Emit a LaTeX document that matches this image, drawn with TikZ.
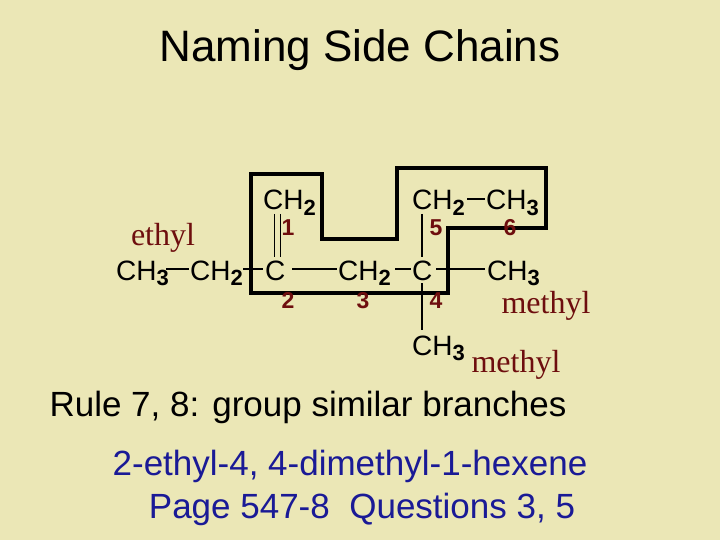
\documentclass[tikz,border=0pt]{standalone}
\usepackage{fontspec}
\setmainfont{Liberation Sans}
\newfontfamily\serifo{Liberation Serif}
\definecolor{bg}{HTML}{EBE7B6}
\definecolor{dred}{HTML}{6E0E0E}
\definecolor{nblue}{HTML}{1A1A96}
\newcommand{\sbs}[1]{\raisebox{-0.35ex}{\bfseries\fontsize{22}{22}\selectfont #1}}
\begin{document}
\begin{tikzpicture}[x=1pt,y=-1pt,
  atom/.style={inner sep=0pt,anchor=base west,font=\fontsize{28}{28}\selectfont},
  num/.style={inner sep=0pt,anchor=base,text=dred,font=\bfseries\fontsize{23}{23}\selectfont},
  lbl/.style={inner sep=0pt,anchor=base,text=dred,font=\serifo\fontsize{32}{32}\selectfont},
  bond/.style={line width=1.3pt}]
\fill[bg] (0,0) rectangle (720,540);
\useasboundingbox (0,0) rectangle (720,540);
\node[inner sep=0pt,anchor=base,font=\fontsize{44}{44}\selectfont] (title) at (360,62) {Naming Side Chains};
% main row
\node[atom] (a1) at (116,280) {CH\sbs{3}};
\node[atom] (a2) at (190,280) {CH\sbs{2}};
\node[atom] (c2) at (265,280) {C};
\node[atom] (c3) at (338,280) {CH\sbs{2}};
\node[atom] (c4) at (412,280) {C};
\node[atom] (m1) at (487,280) {CH\sbs{3}};
% top row
\node[atom] (c1) at (263,210) {CH\sbs{2}};
\node[atom] (c5) at (412,210) {CH\sbs{2}};
\node[atom] (c6) at (486,210) {CH\sbs{3}};
% bottom
\node[atom] (m2) at (412,355) {CH\sbs{3}};
% bonds
\coordinate (b1) at (166,269); \coordinate (b2) at (189,269);
\draw[bond] (b1) -- (b2);
\coordinate (b3) at (243,269); \coordinate (b4) at (263,269);
\draw[bond] (b3) -- (b4);
\coordinate (b5) at (292,269); \coordinate (b6) at (337,269);
\draw[bond] (b5) -- (b6);
\coordinate (b7) at (395,269); \coordinate (b8) at (411,269);
\draw[bond] (b7) -- (b8);
\coordinate (b9) at (436,269); \coordinate (b10) at (485,269);
\draw[bond] (b9) -- (b10);
\coordinate (b11) at (467,199); \coordinate (b12) at (485,199);
\draw[bond] (b11) -- (b12);
\coordinate (d1) at (274.5,214); \coordinate (d2) at (274.5,257);
\coordinate (d3) at (280.5,214); \coordinate (d4) at (280.5,257);
\draw[bond] (d1) -- (d2) (d3) -- (d4);
\coordinate (v1) at (422,214); \coordinate (v2) at (422,257);
\coordinate (v3) at (422,283); \coordinate (v4) at (422,330);
\draw[bond] (v1) -- (v2) (v3) -- (v4);
% box
\draw[line width=3.5pt,line join=miter] (251,174) -- (322,174) -- (322,239) -- (397,239) -- (397,168) -- (546,168) -- (546,228) -- (448,228) -- (448,293) -- (251,293) -- cycle;
% numbers
\node[num] (n1) at (288,236) {1};
\node[num] (n2) at (288,308) {2};
\node[num] (n3) at (363,308) {3};
\node[num] (n4) at (436,308) {4};
\node[num] (n5) at (436,236) {5};
\node[num] (n6) at (510,236) {6};
% labels
\node[lbl] (l1) at (163,245) {ethyl};
\node[lbl] (l2) at (546,313) {methyl};
\node[lbl] (l3) at (516,372) {methyl};
\node[inner sep=0pt,anchor=base,font=\fontsize{35}{35}\selectfont] (rule) at (308,416) {Rule 7, 8: group similar branches};
\node[inner sep=0pt,anchor=base,text=nblue,font=\fontsize{35}{35}\selectfont] (nm) at (350,475) {2-ethyl-4, 4-dimethyl-1-hexene};
\node[inner sep=0pt,anchor=base,text=nblue,font=\fontsize{35}{35}\selectfont] (pg) at (362,518) {Page 547-8\ \ Questions 3, 5};
\end{tikzpicture}
\end{document}
